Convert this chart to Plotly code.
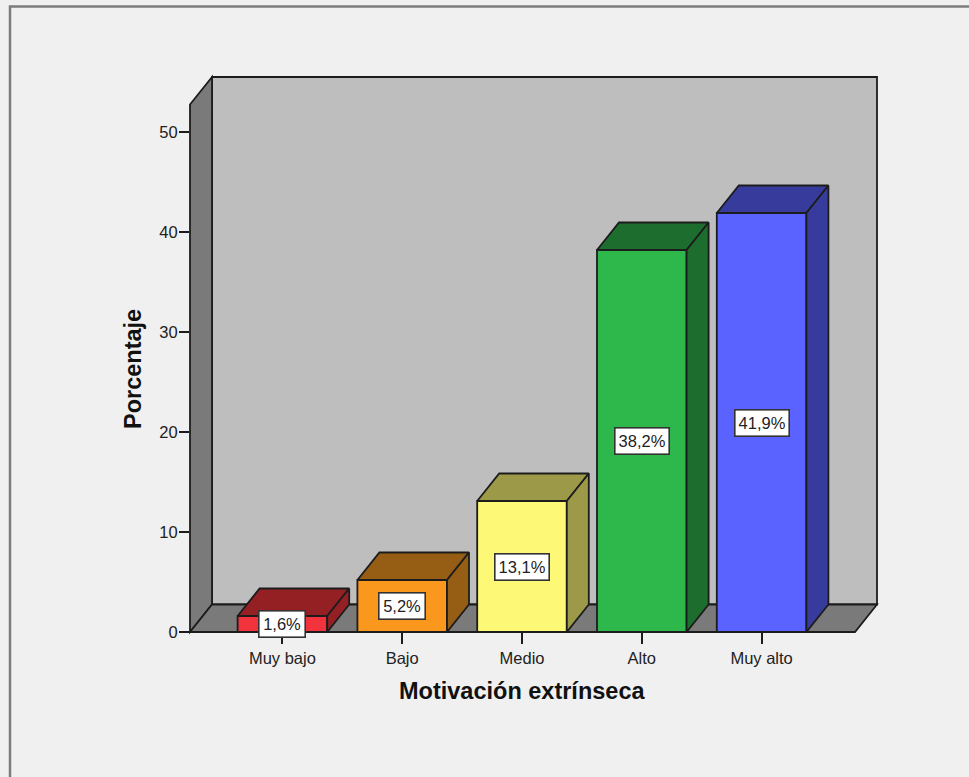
import plotly.graph_objects as go

categories = ["Muy bajo", "Bajo", "Medio", "Alto", "Muy alto"]
values = [1.6, 5.2, 13.1, 38.2, 41.9]
labels = ["1,6%", "5,2%", "13,1%", "38,2%", "41,9%"]
front_colors = ["#f2323c", "#fa981e", "#fdf875", "#2eb84c", "#5a62ff"]
side_colors = ["#942024", "#965e14", "#9c9a48", "#1d6e2e", "#373c9c"]
y_ticks = [0, 10, 20, 30, 40, 50]

W, H = 969, 777
L, R, T, B = 190, 877, 77, 632
CAT0, CAT_STEP = 282.4, 119.8
X0 = (L - CAT0) / CAT_STEP
X1 = (R - CAT0) / CAT_STEP
Y1 = (B - T) / 10.0
DX = 22 / CAT_STEP
DY = 2.75
BAR_W = 89.6 / CAT_STEP
INK = "#1c1c1c"
LW = 1.8
DEPTH_PX_X, DEPTH_PX_Y = 22, 27.5


def px(xp):
    return (xp - L) / (R - L)


def py(yp):
    return (B - yp) / (B - T)


def panel(points, fill):
    path = "M " + " L ".join(f"{px(a)} {py(b)}" for a, b in points) + " Z"
    return dict(type="path", xref="paper", yref="paper", layer="below", path=path,
                fillcolor=fill, line=dict(color=INK, width=LW))


def poly(xs, ys, fill, name=""):
    return go.Scatter(
        x=xs + xs[:1], y=ys + ys[:1], mode="lines", fill="toself", fillcolor=fill,
        line=dict(color=INK, width=LW), hoverinfo="skip", showlegend=False,
        cliponaxis=False, name=name,
    )


fig = go.Figure()

# bar fronts
fig.add_trace(go.Bar(
    x=list(range(len(values))), y=values, width=BAR_W,
    marker=dict(color=front_colors, line=dict(color=INK, width=LW)),
    showlegend=False, cliponaxis=False, hoverinfo="skip",
))

# bar top and side faces
for i, (v, c) in enumerate(zip(values, side_colors)):
    a, b = i - BAR_W / 2, i + BAR_W / 2
    fig.add_trace(poly([a, a + DX, b + DX, b], [v, v + DY, v + DY, v], c, "top"))
    fig.add_trace(poly([b, b + DX, b + DX, b], [0, DY, v + DY, v], c, "right"))

annotations = [
    dict(x=i, y=v / 2, xref="x", yref="y", text=t, showarrow=False,
         font=dict(family="Liberation Sans", size=16.5, color="#222222"),
         bgcolor="#ffffff", bordercolor="#333333", borderwidth=1.6, borderpad=0,
         width=45 if len(t) == 4 else 53, height=25,
         xanchor="center", yanchor="middle", align="center")
    for i, (v, t) in enumerate(zip(values, labels))
]
annotations.append(dict(
    x=px(522), y=py(691), xref="paper", yref="paper", text="<b>Motivación extrínseca</b>",
    showarrow=False, xanchor="center", yanchor="middle",
    font=dict(family="Liberation Sans", size=23.5, color="#111111"),
))
annotations.append(dict(
    x=px(133), y=py(369), xref="paper", yref="paper", text="<b>Porcentaje</b>",
    showarrow=False, xanchor="center", yanchor="middle", textangle=-90,
    font=dict(family="Liberation Sans", size=23.5, color="#111111"),
))

wall = [(L + DEPTH_PX_X, B - DEPTH_PX_Y), (R, B - DEPTH_PX_Y), (R, T), (L + DEPTH_PX_X, T)]
side = [(L, B), (L + DEPTH_PX_X, B - DEPTH_PX_Y), (L + DEPTH_PX_X, T), (L, T + DEPTH_PX_Y)]
floor = [(L, B), (L + DEPTH_PX_X, B - DEPTH_PX_Y), (R, B - DEPTH_PX_Y), (R - DEPTH_PX_X, B)]

fig.update_layout(
    width=W, height=H, autosize=False,
    margin=dict(l=L, r=W - R, t=T, b=H - B, pad=0),
    paper_bgcolor="#f0f0f0", plot_bgcolor="rgba(0,0,0,0)",
    showlegend=False, annotations=annotations,
    font=dict(family="Liberation Sans", size=16.5, color="#222222"),
    shapes=[
        panel(wall, "#bebebe"), panel(side, "#7a7a7a"), panel(floor, "#7a7a7a"),
        dict(type="path", xref="paper", yref="paper",
             path=f"M {px(10)} {py(H + 5)} L {px(10)} {py(6.5)} L {px(W + 5)} {py(6.5)}",
             line=dict(color="#7c7c7c", width=2.5)),
    ],
    xaxis=dict(
        range=[X0, X1], tickmode="array", tickvals=list(range(len(categories))),
        ticktext=categories, ticks="outside", ticklen=11, tickwidth=1.5, tickcolor=INK,
        showgrid=False, zeroline=False, showline=False, fixedrange=True,
        tickfont=dict(family="Liberation Sans", size=16.5, color="#222222"),
    ),
    yaxis=dict(
        range=[0, Y1], tickmode="array", tickvals=y_ticks,
        ticks="outside", ticklen=10, tickwidth=1.7, tickcolor=INK,
        showgrid=False, zeroline=False, showline=False, fixedrange=True,
        tickfont=dict(family="Liberation Sans", size=16.5, color="#222222"),
        ticklabelstandoff=-2,
    ),
)

fig.write_html("out.html", post_script="document.body.style.margin='0';document.body.style.overflow='hidden';",
               config={"displayModeBar": False})
